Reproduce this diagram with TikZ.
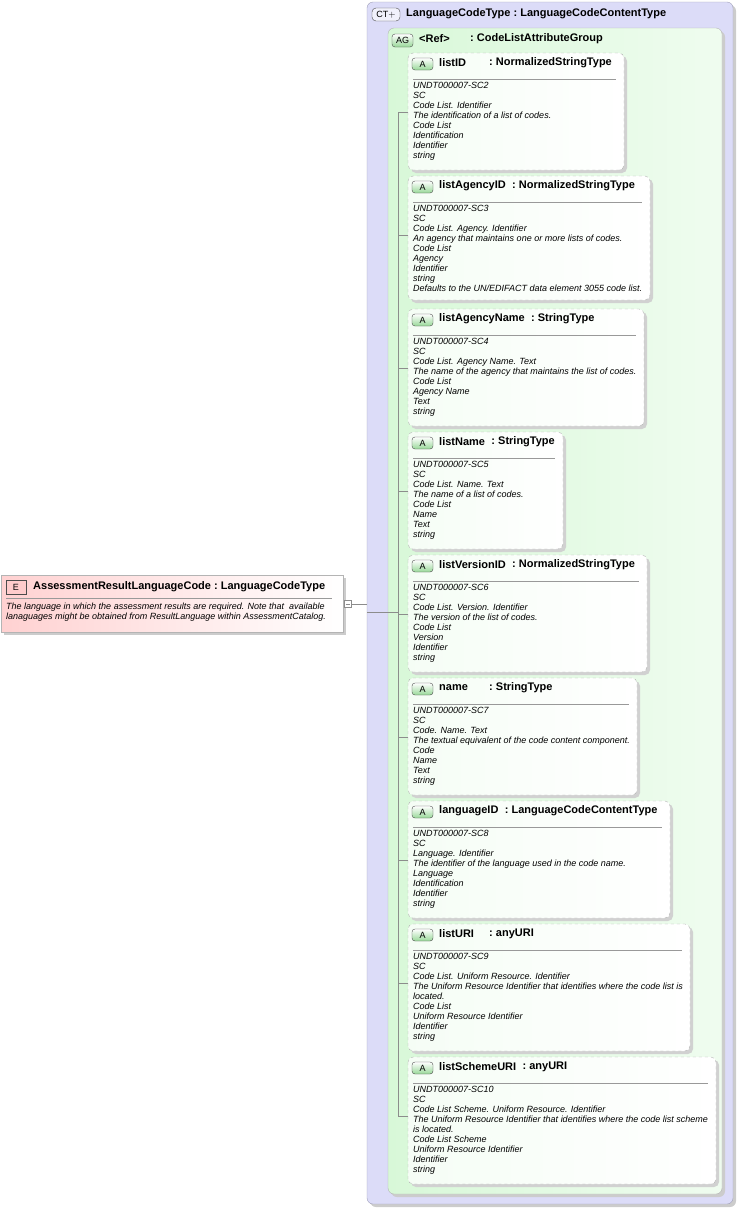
\documentclass[tikz,border=0pt]{standalone}
\usepackage{fontspec}
\setmainfont{Liberation Sans}
\usetikzlibrary{calc}
\definecolor{ctfill}{HTML}{DCDCF8}
\definecolor{ctline}{HTML}{A0A0B8}
\definecolor{agfill}{HTML}{D8F8D8}
\definecolor{boxline}{HTML}{B4B4B4}
\definecolor{badgegreen}{HTML}{98D898}
\tikzset{
  ctbox/.style={draw=ctline,rounded corners=6pt,fill=ctfill},
  agbox/.style={draw=boxline,rounded corners=6pt,left color=agfill,right color=white!60!agfill},
  attbox/.style={draw=boxline,dashed,rounded corners=5pt,left color=white!75!agfill,right color=white},
  shadowbox/.style={fill=black!18,rounded corners=5pt},
  badge/.style={draw=black!70,rounded corners=3pt,top color=white,bottom color=badgegreen,inner sep=0pt,font=\fontsize{9}{9}\selectfont},
  ttl/.style={font=\bfseries\fontsize{11}{12}\selectfont,inner sep=0pt,anchor=west},
  body/.style={font=\itshape\fontsize{9}{10}\selectfont,inner sep=0pt,anchor=north west,align=left},
  conn/.style={draw=black!45,line width=0.6pt}
}
\newcommand{\attr}[7]{% id, top, right, name, mincolonx, type, extra height
  \fill[shadowbox] (411,#2+3) rectangle (#3+3,#2+120+#7);
  \path[attbox] (408,#2) rectangle (#3,#2+117+#7) ;
  \node[badge,minimum width=21pt,minimum height=12pt] (#1b) at (422.5,#2+11) {A};
  \node[ttl] (#1n) at (439,#2+10) {#4};
  \path let \p1=(#1n.east) in node[ttl] (#1t) at ({max(\x1+6,#5)},#2+10) {:\ #6};
  \draw[black!40] (413,#2+26) -- (#3-8,#2+26);
  \coordinate (#1c) at (408,#2+59);
  \draw[conn] (398,#2+59) -- (#1c);
}
\begin{document}
\begin{tikzpicture}[x=1pt,y=-1pt]
\useasboundingbox (0,0) rectangle (737,1208);
% CT box
\fill[black!20,rounded corners=6pt] (370,5) rectangle (736,1207);
\path[ctbox] (367,2) rectangle (733,1204);
\node[draw=black!70,rounded corners=4pt,fill=white!60!ctfill,minimum width=28pt,minimum height=13pt,inner sep=0pt,font=\fontsize{9}{9}\selectfont] (ctb) at (386,14.5) {CT$+$};
\node[ttl] (ctt) at (406,14) {LanguageCodeType\ :\ LanguageCodeContentType};
% AG box
\fill[black!20,rounded corners=6pt] (391,31) rectangle (725,1197);
\path[agbox] (388,28) rectangle (722,1194);
\node[badge,minimum width=21pt,minimum height=13pt] (agb) at (402.5,40.5) {AG};
\node[ttl] (agn) at (419,39) {<Ref>};
\node[ttl] (agt) at (470,39) {:\ CodeListAttributeGroup};
% attributes
\attr{a1}{53}{624}{listID}{489}{NormalizedStringType}{0}
\node[body] at (413,82) {UNDT000007-SC2\\SC\\Code List. Identifier\\The identification of a list of codes.\\Code List\\Identification\\Identifier\\string};
\attr{a2}{176}{650}{listAgencyID}{0}{NormalizedStringType}{7}
\node[body] at (413,205) {UNDT000007-SC3\\SC\\Code List. Agency. Identifier\\An agency that maintains one or more lists of codes.\\Code List\\Agency\\Identifier\\string\\Defaults to the UN/EDIFACT data element 3055 code list.};
\attr{a3}{309}{644}{listAgencyName}{0}{StringType}{0}
\node[body] at (413,338) {UNDT000007-SC4\\SC\\Code List. Agency Name. Text\\The name of the agency that maintains the list of codes.\\Code List\\Agency Name\\Text\\string};
\attr{a4}{432}{563}{listName}{0}{StringType}{0}
\node[body] at (413,461) {UNDT000007-SC5\\SC\\Code List. Name. Text\\The name of a list of codes.\\Code List\\Name\\Text\\string};
\attr{a5}{555}{647}{listVersionID}{0}{NormalizedStringType}{0}
\node[body] at (413,584) {UNDT000007-SC6\\SC\\Code List. Version. Identifier\\The version of the list of codes.\\Code List\\Version\\Identifier\\string};
\attr{a6}{678}{637}{name}{489}{StringType}{0}
\node[body] at (413,707) {UNDT000007-SC7\\SC\\Code. Name. Text\\The textual equivalent of the code content component.\\Code\\Name\\Text\\string};
\attr{a7}{801}{670}{languageID}{0}{LanguageCodeContentType}{0}
\node[body] at (413,830) {UNDT000007-SC8\\SC\\Language. Identifier\\The identifier of the language used in the code name.\\Language\\Identification\\Identifier\\string};
\attr{a8}{924}{690}{listURI}{489}{anyURI}{10}
\node[body] at (413,953) {UNDT000007-SC9\\SC\\Code List. Uniform Resource. Identifier\\The Uniform Resource Identifier that identifies where the code list is\\located.\\Code List\\Uniform Resource Identifier\\Identifier\\string};
\attr{a9}{1057}{716}{listSchemeURI}{0}{anyURI}{10}
\node[body] at (413,1086) {UNDT000007-SC10\\SC\\Code List Scheme. Uniform Resource. Identifier\\The Uniform Resource Identifier that identifies where the code list scheme\\is located.\\Code List Scheme\\Uniform Resource Identifier\\Identifier\\string};
% vertical connector
\coordinate (vtop) at (398,112);
\coordinate (vbot) at (398,1116);
\draw[conn] (vtop) -- (vbot);
% element box
\fill[black!20] (4,578) rectangle (346,635);
\path[draw=boxline,left color=red!18,right color=white] (1,575) rectangle (343,632);
\node[draw=black!70,fill=red!20,minimum width=20pt,minimum height=14pt,inner sep=0pt,font=\fontsize{9}{9}\selectfont] (eb) at (16,587) {E};
\node[ttl] (et) at (33,587) {AssessmentResultLanguageCode\ :\ LanguageCodeType};
\draw[black!40] (6,598) -- (332,598);
\node[body] (ed) at (6,603) {The language in which the assessment results are required. Note that\ \ available\\lanaguages might be obtained from ResultLanguage within AssessmentCatalog.};
\node[draw=black!45,fill=white,minimum size=7pt,inner sep=0pt] (sq) at (347.5,604) {};
\draw[black!45,line width=0.5pt] (345.5,604) -- (349.5,604);
\coordinate (j1) at (367,604);
\coordinate (j2) at (367,612);
\draw[conn] (sq.east) -- (j1);
\draw[conn] (j2) -- (398,612);
\end{tikzpicture}
\end{document}
